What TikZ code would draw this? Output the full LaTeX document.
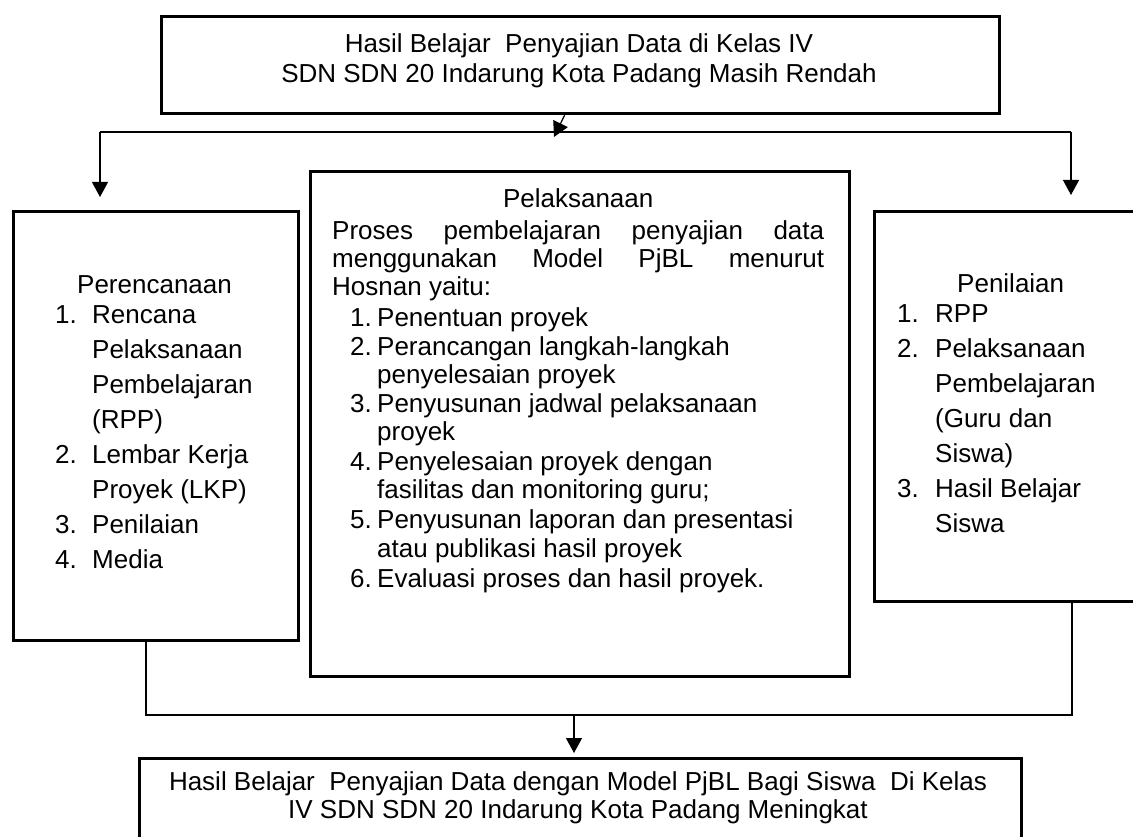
\documentclass[tikz,border=0pt]{standalone}
\usepackage{fontspec}
\setmainfont{Liberation Sans}
\usetikzlibrary{arrows.meta,calc}
\newcommand{\nbx}[2]{\makebox[#1][l]{#2}}
\tikzset{
  boxnode/.style={draw, line width=3.2pt, inner sep=0pt, anchor=north west},
  txt/.style={inner sep=0pt, align=left, anchor=north west},
  conn/.style={line width=1.2pt},
  arr/.style={line width=1.2pt, -{Triangle[width=16pt,length=15pt]}},
}
\begin{document}
\begin{tikzpicture}[x=1pt,y=-1pt]
\path[fill=white, use as bounding box] (0,0) rectangle (1133,837);

% boxes
\node[boxnode, minimum width=838pt, minimum height=97pt] (top) at (160,15) {};
\node[boxnode, minimum width=285pt, minimum height=429pt] (lbox) at (12,210) {};
\node[boxnode, minimum width=539pt, minimum height=505pt] (cbox) at (309,170) {};
\node[boxnode, minimum width=274pt, minimum height=390pt] (rbox) at (873,210) {};
\node[boxnode, minimum width=882pt, minimum height=100pt] (bbox) at (138,757) {};

% texts
\node[txt, align=center, anchor=north, font=\fontsize{26}{30}\selectfont] (toptext) at (579,33.4)
  {Hasil Belajar\ \ Penyajian Data di Kelas IV\\SDN SDN 20 Indarung Kota Padang Masih Rendah};

\node[txt, font=\fontsize{26}{35}\selectfont] (ltext) at (55,275.4)
  {\hspace*{22pt}Perencanaan\\[-5pt]
   \nbx{37pt}{1.}Rencana\\
   \hspace*{37pt}Pelaksanaan\\
   \hspace*{37pt}Pembelajaran\\
   \hspace*{37pt}(RPP)\\
   \nbx{37pt}{2.}Lembar Kerja\\
   \hspace*{37pt}Proyek (LKP)\\
   \nbx{37pt}{3.}Penilaian\\
   \nbx{37pt}{4.}Media};

\node[txt, font=\fontsize{26}{28}\selectfont] (ctext) at (332,188.4)
  {\makebox[492pt][c]{Pelaksanaan}\\[4pt]
   \makebox[492pt][s]{Proses pembelajaran penyajian data}\\
   \makebox[492pt][s]{menggunakan Model PjBL menurut}\\
   Hosnan yaitu:\\[3pt]
   \hspace*{18pt}\nbx{27pt}{1.}Penentuan proyek\\[1pt]
   \hspace*{18pt}\nbx{27pt}{2.}Perancangan langkah-langkah\\
   \hspace*{45pt}penyelesaian proyek\\[1pt]
   \hspace*{18pt}\nbx{27pt}{3.}Penyusunan jadwal pelaksanaan\\
   \hspace*{45pt}proyek\\[2pt]
   \hspace*{18pt}\nbx{27pt}{4.}Penyelesaian proyek dengan\\
   \hspace*{45pt}fasilitas dan monitoring guru;\\[2pt]
   \hspace*{18pt}\nbx{27pt}{5.}Penyusunan laporan dan presentasi\\[1pt]
   \hspace*{45pt}atau publikasi hasil proyek\\[2pt]
   \hspace*{18pt}\nbx{27pt}{6.}Evaluasi proses dan hasil proyek.};

\node[txt, font=\fontsize{26}{35}\selectfont] (rtext) at (897,273.4)
  {\hspace*{60pt}Penilaian\\[-5pt]
   \nbx{38pt}{1.}RPP\\
   \nbx{38pt}{2.}Pelaksanaan\\
   \hspace*{38pt}Pembelajaran\\
   \hspace*{38pt}(Guru dan\\
   \hspace*{38pt}Siswa)\\
   \nbx{38pt}{3.}Hasil Belajar\\
   \hspace*{38pt}Siswa};

\node[txt, align=center, anchor=north, font=\fontsize{26}{28}\selectfont] (btext) at (578,771.4)
  {Hasil Belajar\ \ Penyajian Data dengan Model PjBL Bagi Siswa\ \ Di Kelas\\IV SDN SDN 20 Indarung Kota Padang Meningkat};

% connectors top
\coordinate (tl) at (100,132);
\coordinate (tr) at (1071,132);
\coordinate (tm) at (554,137);
\draw[conn] (tl) -- (tr);
\draw[arr] ([xshift=-16pt]top.south) -- (tm);
\draw[arr, shorten >=13pt] (tl) -- (tl |- lbox.north);
\draw[arr, shorten >=15pt] (tr) -- (tr |- rbox.north);

% connectors bottom
\coordinate (bl) at (146,715);
\coordinate (br) at (1072,715);
\coordinate (bm) at (574,715);
\draw[conn] (lbox.south -| bl) -- (bl) -- (br) -- (rbox.south -| br);
\draw[arr, shorten >=4pt] (bm) -- (bbox.north -| bm);
\end{tikzpicture}
\end{document}
